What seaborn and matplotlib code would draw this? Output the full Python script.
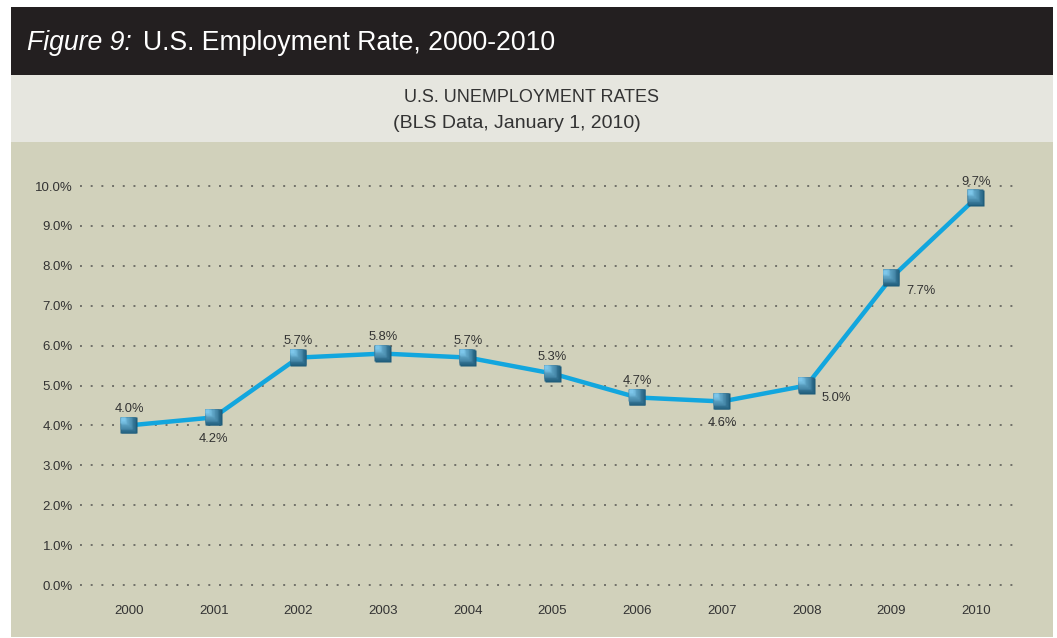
import matplotlib
matplotlib.use("Agg")
import matplotlib.pyplot as plt
import matplotlib.transforms as mtransforms
from matplotlib.patches import Rectangle
from matplotlib.colors import to_rgb
import seaborn as sns
import pandas as pd

# ---- data ----
years = [2000, 2001, 2002, 2003, 2004, 2005, 2006, 2007, 2008, 2009, 2010]
rates = [4.0, 4.2, 5.7, 5.8, 5.7, 5.3, 4.7, 4.6, 5.0, 7.7, 9.7]
y_ticks = [0, 1, 2, 3, 4, 5, 6, 7, 8, 9, 10]
label_side = ["above", "below", "above", "above", "above", "above",
              "above", "below", "right", "right", "above"]

title_italic = "Figure 9:"
title_rest = "U.S. Employment Rate, 2000-2010"
sub1 = "U.S. UNEMPLOYMENT RATES"
sub2 = "(BLS Data, January 1, 2010)"

df = pd.DataFrame({"year": years, "rate": rates})

sns.set_theme(style="white")
plt.rcParams["font.family"] = ["Liberation Sans", "DejaVu Sans"]

W, H = 1057, 638
fig = plt.figure(figsize=(W / 100, H / 100), dpi=100)
fig.patch.set_facecolor("white")

def px_rect(x0, y0, x1, y1, color):
    fig.patches.append(Rectangle((x0 / W, 1 - y1 / H), (x1 - x0) / W, (y1 - y0) / H,
                                 transform=fig.transFigure, facecolor=color,
                                 edgecolor="none", zorder=-10))

px_rect(11, 7, 1053, 75, "#231f20")
px_rect(11, 75, 1053, 142, "#e6e6df")
px_rect(11, 142, 1053, 637, "#d1d1bb")

# axes placement (pixels)
ax_l, ax_r, ax_t, ax_b = 80, 1020, 180, 590
ax = fig.add_axes([ax_l / W, 1 - ax_b / H, (ax_r - ax_l) / W, (ax_b - ax_t) / H])
ax.set_facecolor("none")
ax.set_zorder(5)

sns.lineplot(data=df, x="year", y="rate", ax=ax, color="#12a6de", linewidth=3.2,
             zorder=3)

# gradient-like square markers (layers shifted toward top-left, lighter)
dark = to_rgb("#1b5876")
light = to_rgb("#7dc6ea")
n_layers = 10
full = 12.0
for i in range(n_layers):
    t = i / (n_layers - 1)
    col = tuple(d + (l - d) * t for d, l in zip(dark, light))
    size = full * (1 - 0.75 * t)
    shift = (full - size) / 2
    tr = mtransforms.offset_copy(ax.transData, fig=fig, x=-shift, y=shift,
                                 units="points")
    ax.plot(df["year"], df["rate"], linestyle="none", marker="s", markersize=size,
            markerfacecolor=col, markeredgecolor="none", transform=tr, zorder=4,
            clip_on=False)

# data labels
for x, y, side in zip(years, rates, label_side):
    if side == "above":
        off, ha, va = (0, 7.5), "center", "bottom"
    elif side == "below":
        off, ha, va = (0, -11), "center", "top"
    else:
        off, ha, va = (11, -5), "left", "top"
    ax.annotate(f"{y:.1f}%", (x, y), xytext=off, textcoords="offset points",
                ha=ha, va=va, fontsize=9.3, color="#333333", zorder=5)

ax.set_xlim(2000 - 49 / 84.7, 2010 + 44 / 84.7)
ax.set_ylim(-5 / 39.9, 10 + 6 / 39.9)
ax.set_yticks(y_ticks)
ax.set_yticklabels([f"{v:.1f}%" for v in y_ticks])
ax.set_xticks(years)
ax.set_xticklabels([str(y) for y in years])
ax.tick_params(axis="both", length=0, labelsize=9.5, labelcolor="#333333")
ax.tick_params(axis="y", pad=5)
ax.tick_params(axis="x", pad=11)
ax.grid(axis="y", color="#707068", linestyle=(0, (1, 4.5)), linewidth=1.4)
ax.grid(axis="x", visible=False)
ax.set_axisbelow(True)
ax.set_xlabel("")
ax.set_ylabel("")
for s in ax.spines.values():
    s.set_visible(False)

# titles
t1 = fig.text(27 / W, 1 - 43 / H, title_italic, color="white", fontsize=19.2,
              style="italic", va="center", ha="left")
fig.canvas.draw()
bb = t1.get_window_extent()
fig.text((bb.x1 + 11) / W, 1 - 43 / H, title_rest, color="white", fontsize=19.2,
         va="center", ha="left")

fig.text(532 / W, 1 - 97 / H, sub1, color="#333333", fontsize=13, ha="center",
         va="center")
fig.text(517 / W, 1 - 124 / H, sub2, color="#333333", fontsize=14, ha="center",
         va="center")

fig.savefig("out.png", dpi=100, facecolor=fig.get_facecolor())
